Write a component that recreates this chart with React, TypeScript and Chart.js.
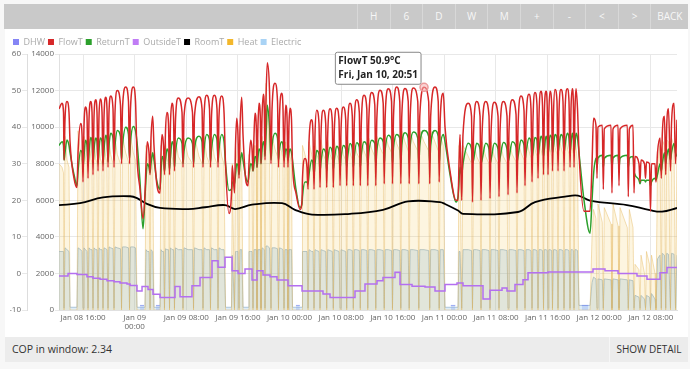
import React, { useEffect, useRef } from 'react';
import { Chart, registerables, Tooltip } from 'chart.js';

Chart.register(...registerables);
Chart.defaults.font.family = "'Open Sans', sans-serif";

// ---------- data ----------
const seriesLabels = ['DHW', 'FlowT', 'ReturnT', 'OutsideT', 'RoomT', 'Heat', 'Electric'];
const legendColors = ['#8585f5', '#d62728', '#2ca02c', '#c07cf5', '#000000', '#f3b72b', '#a9d3f5'];
const navButtons = ['H', '6', 'D', 'W', 'M', '+', '-', '<', '>', 'BACK'];
const copInWindow = 2.34;
const weekdays = ['Wed', 'Thu', 'Fri', 'Sat', 'Sun'];
const tooltipHour = 68.85;

// hours since Jan 08 00:00
const xMinHour = 12.27;
const xMaxHour = 108.06;
const xTickHours = [16, 24, 32, 40, 48, 56, 64, 72, 80, 88, 96, 104];
const xTickLabels: (string | string[])[] = ['Jan 08 16:00', ['Jan 09', '00:00'], 'Jan 09 08:00', 'Jan 09 16:00', 'Jan 10 00:00', 'Jan 10 08:00', 'Jan 10 16:00', 'Jan 11 00:00', 'Jan 11 08:00', 'Jan 11 16:00', 'Jan 12 00:00', 'Jan 12 08:00'];

const cycleHours = [
  12.27, 12.74, 12.97, 13.05, 13.2, 13.51, 13.82, 13.98, 14.6, 15.06,
  15.22, 15.63, 15.84, 15.99, 16.14, 16.38, 16.61, 16.77, 16.92, 17.18, 17.39, 17.54, 17.7, 17.96, 18.16, 18.32, 18.47, 18.67, 18.94, 19.09,
  19.25, 19.51, 19.71, 19.87, 20.02, 20.28, 20.64, 20.8, 20.95, 21.31, 21.8, 21.96, 22.11, 22.61, 23.04, 23.2, 23.35, 23.79, 24.13, 24.36, 24.83, 25.29, 25.6,
  25.76, 25.96, 26.22, 26.38, 26.53, 26.79, 26.99, 27.46, 27.93, 28.08, 28.24, 28.47, 28.62, 28.78, 29.01, 29.24, 29.4, 29.55, 29.79, 30.02,
  30.17, 30.33, 30.76, 31.34, 31.49, 31.65, 32.27, 32.96, 33.12, 33.27, 33.97, 34.44, 34.59, 34.75, 35.16, 35.6, 35.75, 35.91, 36.34, 36.76,
  36.92, 37.07, 37.49, 37.85, 38.08, 38.62,
  39.01, 39.13, 39.47, 39.63, 39.81, 40.01, 40.17, 40.33, 40.59, 40.79, 41.26, 41.57, 41.72, 41.98, 42.19, 42.34, 42.5, 42.65, 42.85, 42.96,
  43.12, 43.27, 43.47, 43.58, 43.74, 43.94, 44.09, 44.2, 44.36, 44.56, 44.9, 45.13, 45.29, 45.75, 46.14, 46.29, 46.45, 46.79, 46.99, 47.15,
  47.3, 47.41, 47.61, 47.76, 47.92, 48.08, 48.31, 48.46, 49.0, 49.63,
  49.94, 50.01, 50.4, 50.71, 50.87, 51.02, 51.44, 51.64, 51.8, 51.95, 52.21, 52.57, 52.73, 52.88, 53.24, 53.61, 53.76, 53.92, 54.28, 54.63,
  54.79, 54.94, 55.31, 55.67, 55.83, 55.98, 56.34, 56.71, 56.86, 57.02, 57.38, 57.73, 57.89, 58.04, 58.41, 58.82, 58.97, 59.13, 59.55, 59.98,
  60.13, 60.29, 60.74, 61.22, 61.37, 61.53, 62.03, 62.52, 62.68, 62.83, 63.31, 63.81, 63.96, 64.12, 64.61, 65.09, 65.25, 65.4, 65.9, 66.4,
  66.55, 66.71, 67.19, 67.88, 68.04, 68.19, 68.85, 69.57, 69.73, 69.88, 70.55, 71.05, 71.2, 71.36, 71.84, 72.1, 72.88, 73.81,
  74.12, 74.27, 74.43, 74.69, 74.89, 75.71, 76.21, 76.36, 76.52, 77.01, 77.53, 77.68, 77.84, 78.41, 78.92, 79.08, 79.23, 79.74, 80.32, 80.47,
  80.63, 81.14, 81.71, 81.87, 82.02, 82.53, 83.11, 83.26, 83.42, 83.88, 84.35, 84.5, 84.66, 85.12, 85.43, 85.59, 85.74, 86.05, 86.36, 86.52,
  86.67, 86.98, 87.21, 87.37, 87.49, 87.76, 87.94, 88.07, 88.19, 88.38, 88.64, 88.76, 88.92, 89.15, 89.46, 89.62, 89.77, 90.08, 90.39, 90.55,
  90.7, 91.06, 91.32, 91.48, 91.63, 91.83, 91.99, 92.1, 92.25, 92.41, 92.64, 92.87, 93.65, 94.58,
  94.89, 95.12, 95.5, 95.66, 95.81, 96.48, 96.64, 96.79, 97.83, 97.98, 98.14, 98.92, 99.07, 99.23, 100.36, 100.51, 100.67, 101.24, 101.4, 101.55,
  102.17, 102.33, 102.48, 103.02, 103.18, 103.33, 103.8, 103.95, 104.11, 104.65, 104.8, 105.04, 105.43, 105.63, 105.78, 106.12, 106.31, 106.46, 106.74, 107.05,
  107.21, 107.6, 107.83, 108.06,
];

const flowT = [
  45, 46.5, 44, 31, 42, 47, 44, 36, 26, 23.5,
  33, 41, 38, 25, 40, 45.5, 43, 26, 42, 47, 44, 27, 43, 47.5, 44, 28, 43, 47.7, 44, 28,
  43, 48.2, 45, 29, 44, 48.5, 45, 29, 44, 50, 46, 30, 45, 51, 47, 30, 45, 51, 47, 32, 23, 15, 22,
  30, 36, 33, 27, 37, 43, 35, 24, 22, 33, 38, 35, 27, 39, 44, 41, 27, 41, 46.5, 43,
  28, 42, 48, 44, 29, 43, 48, 44, 29, 43, 48.3, 45, 29, 43, 48.7, 45, 29, 43, 48.7, 45,
  29, 43, 48.5, 44, 30, 16.4,
  22, 29.5, 22, 35, 42.4, 38, 26, 40, 48.2, 38, 25, 24, 30, 36.4, 34, 28, 38, 43.8, 40, 29,
  41, 46.5, 43, 30, 43, 49, 45, 31, 48, 57.6, 50, 30, 45, 52, 47, 29, 43, 49.3, 45, 29,
  41, 46, 43, 29, 41, 45.2, 42, 30, 22, 17.5,
  20, 26, 31.4, 29, 23, 36, 42, 38, 23, 38, 44.6, 41, 23.5, 38, 44.6, 41, 23.5, 38, 45, 41.5,
  23.5, 39, 45.2, 42, 24, 39, 45.5, 42, 24, 40, 46.5, 43, 24, 41, 47.5, 44, 24, 41, 48.7, 45,
  24, 42, 49.5, 46, 24, 42, 50.1, 46.5, 24.5, 43, 50.5, 47, 24.5, 43, 51, 47, 24.5, 43, 50.6, 47,
  24.5, 43, 50.7, 47, 24.5, 43, 50.9, 47, 24.5, 43, 51, 47, 25, 42, 49.3, 40, 28, 20,
  20, 30, 38, 20, 38, 46.5, 43, 19.5, 38, 47, 43, 20, 38, 47, 43, 20.5, 38, 46.8, 43, 21,
  39, 47, 43, 21.5, 39, 47.5, 43.5, 22, 40, 48.5, 44.5, 24, 41, 49, 45, 25, 42, 49.5, 46, 26,
  43, 49.8, 46, 27, 43, 49.8, 46, 27, 43, 49.8, 46, 28, 44, 50.3, 47, 28, 44, 50.3, 47, 28,
  44, 50.5, 47, 29, 45, 50.5, 47, 29, 45, 50.5, 45, 33, 17, 17,
  30, 42.4, 40.5, 26, 40, 40.5, 23, 39.5, 40.5, 22, 39.5, 40.5, 24, 39.5, 40.5, 21, 39.5, 40.5, 22, 32,
  30, 25, 31, 30, 26, 30.5, 30, 17, 30, 30, 25, 33, 37, 26, 38, 43, 27, 40, 45, 28,
  41, 46.5, 30, 42,
];

const returnT = [
  35, 36, 35, 31, 33, 36.5, 35, 33, 27, 24,
  28, 33.6, 33, 29, 32, 36.4, 35, 29.5, 33, 37.2, 36, 30, 34, 37, 36, 30, 34, 37, 36, 30,
  34, 37.8, 36.5, 30.5, 35, 38.3, 37, 31, 35, 39.1, 37.5, 31, 35, 40, 38, 31.5, 36, 40.2, 39, 36, 25, 12.2, 21,
  26, 30, 29, 27.5, 30, 33, 31, 25, 23, 28, 32, 31, 28, 31, 34, 33, 28.5, 32, 36, 35,
  29, 33, 37, 35.5, 30, 33.5, 37, 35.5, 30, 34, 37.5, 36, 30, 34, 38, 36.5, 30.5, 34, 38, 36.5,
  30.5, 34, 38, 36, 30, 22.7,
  23, 25, 24.5, 27, 30, 29.5, 27, 30, 33, 31, 26, 25, 27, 30, 29.5, 28, 30, 32, 31.5, 29,
  32, 34, 33.5, 30, 34, 36, 35, 32, 38, 46, 40, 31, 35, 38.3, 37, 31, 34, 36, 35, 31,
  33, 34, 33.5, 31, 33, 34, 33, 31, 23, 18,
  19, 21, 25, 25, 24.5, 27, 31, 30, 27, 30, 33.6, 32.5, 28, 30.5, 34, 33, 28, 31, 34.5, 33,
  28.5, 31, 34.8, 33.5, 28.5, 31.5, 35, 34, 29, 32, 35.5, 34, 29, 32, 35.7, 34.5, 29, 32.5, 36, 35,
  29.5, 33, 36.4, 35.5, 29.5, 33.5, 37, 36, 30, 34, 37.8, 36.5, 30, 34.5, 38, 37, 30, 35, 38.5, 37,
  30, 35, 38.7, 37, 30, 35, 39.1, 37.5, 30, 35, 39.1, 37.5, 30, 34.5, 38, 36, 27, 19.5,
  21, 25, 29, 27, 30, 35.6, 34, 30, 31, 35.6, 34, 30, 31, 35.6, 34, 30, 31, 35.6, 34, 30,
  31.5, 35.8, 34, 30.5, 31.5, 36, 34.5, 30.5, 32, 36.5, 35, 31, 33, 37, 36, 31.5, 33.5, 37.2, 36.5, 32,
  34, 37.5, 36.5, 32, 34, 37.5, 36.5, 32.5, 34.5, 37.8, 37, 33, 35, 38, 37, 33, 35, 38, 37, 33,
  35, 38.3, 37, 33, 35.5, 38.3, 37, 33, 35.5, 38.3, 37, 33, 20, 11,
  20, 27, 31.5, 29, 31.5, 32.3, 29, 31.5, 32.3, 29, 31.5, 32.3, 29, 31.5, 32.3, 29, 31.5, 32, 28, 27,
  25.5, 24.5, 25.5, 25.5, 25, 25.5, 25.5, 24, 25, 26, 25.5, 27, 30, 28, 30, 33, 30, 32, 34, 31,
  33, 35.5, 33, 32,
];

const heatW = [
  8000, 7800, 7500, 0, 9500, 8200, 7800, 0, 0, 0,
  9800, 8500, 8000, 0, 9500, 8300, 8000, 0, 9500, 8400, 8000, 0, 9400, 8300, 8000, 0, 9300, 8300, 8000, 0,
  9300, 8400, 8000, 0, 9300, 8500, 8000, 0, 9400, 8500, 8000, 0, 9500, 8600, 8100, 0, 9500, 8600, 8200, 0, 0, 0, 0,
  9000, 8300, 7800, 0, 9300, 8300, 0, 0, 0, 9000, 8300, 7800, 0, 9300, 8300, 8000, 0, 9400, 8400, 8000,
  0, 9400, 8400, 8000, 0, 9400, 8400, 8000, 0, 9500, 8400, 8000, 0, 9500, 8400, 8000, 0, 9500, 8400, 8000,
  0, 9500, 8400, 8000, 0, 0,
  0, 8000, 0, 9000, 8300, 8000, 0, 9300, 8400, 0, 0, 0, 8500, 8000, 7800, 0, 9000, 8300, 8000, 0,
  9300, 8400, 8000, 0, 9500, 8600, 8300, 0, 12400, 10500, 8800, 0, 9500, 8800, 8400, 0, 9300, 8600, 8300, 0,
  9200, 8500, 8200, 0, 9000, 8400, 8000, 0, 0, 0,
  0, 9000, 8500, 8000, 0, 9200, 8500, 8200, 0, 9300, 8500, 8200, 0, 9300, 8500, 8200, 0, 9300, 8500, 8200,
  0, 9300, 8500, 8200, 0, 9300, 8500, 8200, 0, 9300, 8600, 8200, 0, 9300, 8600, 8300, 0, 9400, 8700, 8300,
  0, 9400, 8800, 8400, 0, 9500, 8900, 8500, 0, 9600, 9000, 8600, 0, 9800, 9100, 8700, 0, 9800, 9200, 8700,
  0, 9800, 9200, 8700, 0, 9800, 9200, 8700, 0, 9800, 9200, 8700, 0, 9500, 9000, 0, 0, 0,
  0, 9000, 8500, 0, 9000, 8400, 8000, 0, 9200, 8400, 8000, 0, 9200, 8400, 8000, 0, 9200, 8400, 8000, 0,
  9200, 8400, 8000, 0, 9200, 8500, 8100, 0, 9300, 8600, 8200, 0, 9400, 8700, 8300, 0, 9500, 8800, 8400, 0,
  9500, 8800, 8400, 0, 9500, 8800, 8400, 0, 9500, 8800, 8400, 0, 9500, 8900, 8500, 0, 9500, 8900, 8500, 0,
  9500, 8900, 8500, 0, 9500, 8900, 8500, 0, 9500, 8900, 8000, 0, 0, 0,
  4000, 5500, 5000, 0, 5800, 4800, 0, 5600, 4700, 0, 5800, 4600, 0, 5600, 4500, 0, 5500, 4500, 0, 2500,
  2200, 0, 3000, 2000, 0, 3200, 2500, 0, 3000, 2000, 0, 8000, 9000, 0, 9300, 9000, 0, 9300, 9200, 0,
  9400, 9000, 0, 8800,
];

const electricW = [
  3200, 3200, 3200, 100, 3400, 3300, 3200, 150, 150, 150,
  3400, 3300, 3200, 100, 3400, 3300, 3200, 100, 3400, 3300, 3300, 100, 3400, 3300, 3300, 100, 3400, 3300, 3300, 100,
  3400, 3350, 3300, 100, 3450, 3400, 3350, 100, 3450, 3400, 3350, 100, 3450, 3450, 3400, 100, 3450, 3450, 3400, 150, 150, 150, 150,
  3300, 3200, 3200, 100, 3300, 3200, 150, 150, 150, 3300, 3200, 3200, 100, 3350, 3300, 3300, 100, 3400, 3300, 3300,
  100, 3400, 3300, 3300, 100, 3400, 3300, 3300, 100, 3400, 3300, 3300, 100, 3400, 3300, 3300, 100, 3400, 3300, 3300,
  100, 3400, 3300, 3300, 150, 150,
  150, 3000, 100, 3200, 3200, 3200, 100, 3300, 3300, 150, 150, 150, 3200, 3200, 3200, 100, 3300, 3300, 3300, 100,
  3300, 3300, 3300, 100, 3400, 3350, 3300, 100, 3500, 3500, 3400, 100, 3400, 3400, 3350, 100, 3400, 3350, 3300, 100,
  3300, 3300, 3300, 100, 3300, 3300, 3300, 150, 150, 150,
  150, 3200, 3200, 3200, 100, 3300, 3200, 3200, 100, 3300, 3250, 3200, 100, 3300, 3250, 3200, 100, 3300, 3250, 3200,
  100, 3300, 3250, 3200, 100, 3300, 3250, 3200, 100, 3300, 3300, 3250, 100, 3300, 3300, 3250, 100, 3300, 3300, 3250,
  100, 3300, 3300, 3250, 100, 3300, 3300, 3250, 100, 3300, 3300, 3250, 100, 3300, 3300, 3250, 100, 3300, 3300, 3250,
  100, 3300, 3300, 3250, 100, 3300, 3300, 3250, 100, 3300, 3300, 3250, 100, 3300, 3300, 150, 150, 150,
  150, 3200, 3200, 100, 3300, 3300, 3250, 100, 3300, 3300, 3250, 100, 3300, 3300, 3250, 100, 3300, 3300, 3250, 100,
  3300, 3300, 3250, 100, 3300, 3300, 3250, 100, 3300, 3300, 3250, 100, 3300, 3300, 3250, 100, 3300, 3300, 3250, 100,
  3300, 3300, 3250, 100, 3300, 3300, 3250, 100, 3300, 3300, 3250, 100, 3300, 3300, 3250, 100, 3300, 3300, 3250, 100,
  3300, 3300, 3250, 100, 3300, 3300, 3250, 100, 3300, 3300, 3250, 250, 250, 250,
  1500, 1800, 1700, 100, 1700, 1650, 100, 1700, 1650, 100, 1700, 1650, 100, 1700, 1650, 100, 1650, 1600, 100, 800,
  700, 100, 800, 600, 100, 800, 700, 100, 900, 600, 100, 2800, 3000, 100, 3100, 3000, 100, 3100, 3050, 100,
  3100, 3050, 100, 3000,
];

const roomHours = [12.27, 15.53, 19.09, 23.28, 24.36, 25.91, 27.93, 32.27, 34.9, 38.0, 39.55, 42.18, 46.84, 48.85, 51.49, 57.38, 62.49, 66.37, 71.32, 72.1, 74.12, 74.89, 83.42, 86.05, 90.7, 92.72, 94.58, 100.31, 103.88, 105.74, 108.06];
const roomT = [18.7, 19.2, 20.8, 21.1, 20.6, 19.0, 17.9, 17.6, 18.1, 18.7, 17.6, 18.8, 19.2, 17.4, 16.1, 16.3, 17.4, 19.7, 19.5, 19.0, 17.2, 16.3, 16.8, 19.5, 21.0, 21.3, 19.9, 18.7, 17.3, 16.9, 17.9];

const outsideHours = [12.27, 13.67, 15.06, 16.61, 17.54, 18.63, 19.71, 20.8, 21.73, 22.81, 23.28, 24.36, 25.14, 26.07, 26.84, 27.93, 30.25, 31.03, 32.88, 34.13, 35.99, 36.92, 38.0, 39.09, 40.02, 41.1, 42.19, 42.96, 43.89, 44.98, 46.06, 47.77, 49.94, 53.19, 54.28, 58.15, 59.7, 61.56, 62.49, 64.35, 65.13, 66.99, 69.0, 70.55, 72.1, 73.96, 74.89, 77.99, 79.08, 80.94, 81.71, 82.95, 84.19, 84.97, 88.07, 95.04, 96.9, 98.92, 101.86, 103.41, 105.43, 106.51, 108.06];
const outsideT = [-0.7, 0.0, -0.3, -0.9, -1.3, -1.6, -2.0, -2.3, -2.6, -2.9, -3.3, -4.8, -3.6, -4.4, -5.7, -6.6, -3.6, -6.4, -3.4, -1.1, 3.5, 1.7, 4.4, 0.7, 0.0, 1.2, -1.8, 0.7, -0.4, -0.9, -1.8, -3.4, -4.8, -5.6, -6.6, -4.8, -2.9, -2.0, -1.1, 0.3, -3.0, -3.5, -3.7, -4.8, -3.0, -2.6, -3.4, -7.0, -4.6, -4.0, -4.8, -3.0, -1.7, 0.2, 0.4, 1.2, 0.7, 0.0, -0.7, -1.6, 0.2, 1.6, 1.6];

const dhwHours = [24.83, 25.45, 25.46, 27.3, 27.9, 27.91, 49.0, 49.6, 49.61, 73.0, 73.7, 73.71, 93.3, 94.3];
const dhwW = [250, 250, null, 250, 250, null, 250, 250, null, 250, 250, null, 250, 250];

// ---------- helpers ----------
function pts(xs: number[], ys: (number | null)[]) {
  return xs.map((x, i) => ({ x, y: ys[i] }));
}
function pad2(n: number) {
  return String(n).padStart(2, '0');
}
function fmtTime(h: number) {
  const d = Math.floor(h / 24);
  const rem = h - d * 24;
  const hh = Math.floor(rem);
  const mm = Math.round((rem - hh) * 60);
  return `${weekdays[d]}, Jan ${pad2(8 + d)}, ${pad2(hh)}:${pad2(mm)}`;
}

(Tooltip.positioners as any).tipAbove = function (items: any[]) {
  if (!items.length) return false;
  const el = items[0].element;
  return { x: el.x - 5, y: el.y, xAlign: 'right', yAlign: 'bottom' };
};

export default function App() {
  const canvasRef = useRef<HTMLCanvasElement | null>(null);

  useEffect(() => {
    if (!canvasRef.current) return;
    const common = { pointRadius: 0, pointHoverRadius: 0, fill: false };
    const chart = new Chart(canvasRef.current, {
      type: 'line',
      data: {
        datasets: [
          { ...common, label: seriesLabels[0], data: pts(dhwHours, dhwW), yAxisID: 'yP', borderColor: 'rgba(120,140,240,0.7)', backgroundColor: 'rgba(140,170,240,0.35)', fill: 'origin', borderWidth: 1, spanGaps: false },
          { ...common, label: seriesLabels[1], data: pts(cycleHours, flowT), yAxisID: 'yT', borderColor: '#d62728', borderWidth: 1.5, cubicInterpolationMode: 'monotone', pointHoverRadius: 4, pointHoverBorderWidth: 1.5, pointHoverBackgroundColor: 'rgba(245,175,175,0.55)', pointHoverBorderColor: '#ec9a9a' },
          { ...common, label: seriesLabels[2], data: pts(cycleHours, returnT), yAxisID: 'yT', borderColor: '#2ca02c', borderWidth: 1.5, cubicInterpolationMode: 'monotone' },
          { ...common, label: seriesLabels[3], data: pts(outsideHours, outsideT), yAxisID: 'yT', borderColor: '#b46ff0', borderWidth: 1.5, stepped: true },
          { ...common, label: seriesLabels[4], data: pts(roomHours, roomT), yAxisID: 'yT', borderColor: '#000000', borderWidth: 1.8, tension: 0.4 },
          { ...common, label: seriesLabels[5], data: pts(cycleHours, heatW), yAxisID: 'yP', borderColor: 'rgba(228,185,95,0.45)', backgroundColor: 'rgba(245,195,70,0.17)', fill: 'origin', borderWidth: 1 },
          { ...common, label: seriesLabels[6], data: pts(cycleHours, electricW), yAxisID: 'yP', borderColor: 'rgba(150,182,205,0.75)', backgroundColor: 'rgba(100,170,225,0.22)', fill: 'origin', borderWidth: 1 },
        ],
      },
      options: {
        animation: false,
        responsive: false,
        devicePixelRatio: 1,
        events: [],
        layout: { padding: { left: 5, right: 10, top: 4.5, bottom: 0 } },
        plugins: {
          legend: {
            position: 'top',
            align: 'start',
            maxHeight: 19.5,
            labels: {
              boxWidth: 6,
              boxHeight: 6,
              padding: 3,
              color: '#aaaaaa',
              font: { size: 9 },
              generateLabels: (c: any) => {
                const items = (Chart.defaults.plugins.legend.labels as any).generateLabels(c);
                items.forEach((it: any) => {
                  it.fillStyle = legendColors[it.datasetIndex];
                  it.strokeStyle = legendColors[it.datasetIndex];
                  it.lineWidth = 0;
                });
                return items;
              },
            },
          },
          tooltip: {
            enabled: true,
            position: 'tipAbove' as any,
            xAlign: 'right',
            yAlign: 'bottom',
            backgroundColor: '#ffffff',
            borderColor: '#888888',
            borderWidth: 1,
            cornerRadius: 2,
            caretSize: 0,
            caretPadding: 3,
            displayColors: false,
            titleColor: '#222222',
            bodyColor: '#222222',
            titleFont: { size: 10, weight: 'bold' },
            bodyFont: { size: 10, weight: 'bold' },
            titleMarginBottom: 2,
            padding: { top: 3, bottom: 3, left: 3, right: 3 },
            callbacks: {
              title: (items: any[]) => `${items[0].dataset.label} ${items[0].parsed.y.toFixed(1)}°C`,
              label: (item: any) => fmtTime(item.parsed.x),
            },
          },
        },
        scales: {
          x: {
            type: 'linear',
            min: xMinHour,
            max: xMaxHour,
            afterBuildTicks: (s: any) => {
              s.ticks = xTickHours.map((v) => ({ value: v }));
            },
            afterFit: (s: any) => {
              s.height = 27;
            },
            ticks: {
              autoSkip: false,
              maxRotation: 0,
              font: { size: 8, lineHeight: 1.15 },
              color: '#666666',
              padding: 3,
              callback: (_v: any, i: number) => xTickLabels[i],
            },
            grid: { color: '#e8e8e8', drawTicks: false },
            border: { color: '#e0e0e0' },
          },
          yT: {
            type: 'linear',
            position: 'left',
            weight: 1,
            min: -10,
            max: 60,
            afterFit: (s: any) => {
              s.width = 17;
            },
            ticks: { stepSize: 10, font: { size: 8 }, color: '#666666', padding: 1 },
            grid: { color: '#e8e8e8', tickLength: 5 },
            border: { color: '#dddddd' },
          },
          yP: {
            type: 'linear',
            position: 'left',
            weight: 0,
            min: 0,
            max: 14000,
            afterFit: (s: any) => {
              s.width = 32;
            },
            ticks: { stepSize: 2000, font: { size: 8 }, color: '#666666', padding: 1, callback: (v: any) => String(v) },
            grid: { drawOnChartArea: false, color: '#e8e8e8', tickLength: 4 },
            border: { color: '#e0e0e0' },
          },
        },
      } as any,
    });

    const idx = cycleHours.indexOf(tooltipHour);
    const meta = chart.getDatasetMeta(1);
    const el: any = meta.data[idx];
    const active = [{ datasetIndex: 1, index: idx }];
    chart.setActiveElements(active);
    chart.tooltip!.setActiveElements(active, { x: el.x, y: el.y });
    chart.update();

    return () => chart.destroy();
  }, []);

  return (
    <div style={{ position: 'absolute', left: 0, top: 0, width: 690, height: 369, background: '#f7f7f7', fontFamily: "'Open Sans', sans-serif", overflow: 'hidden' }}>
      <div style={{ position: 'absolute', left: 4, top: 4, width: 684, height: 25, background: '#c9c9c9' }}>
        <div style={{ position: 'absolute', left: 353, top: 0, height: 25, display: 'flex' }}>
          {navButtons.map((b) => (
            <div key={b} style={{ width: b === 'BACK' ? 38 : 32.6, height: 25, lineHeight: '25px', textAlign: 'center', color: '#f7f7f7', fontSize: 10, borderLeft: '1px solid #d8d8d8', boxSizing: 'border-box' }}>
              {b}
            </div>
          ))}
        </div>
      </div>
      <div style={{ position: 'absolute', left: 5, top: 29, width: 683, height: 308, background: '#ffffff' }}>
        <canvas ref={canvasRef} width={682} height={307} style={{ position: 'absolute', left: 0, top: 1, width: 682, height: 307 }} />
      </div>
      <div style={{ position: 'absolute', left: 5, top: 337, width: 683, height: 25, background: '#ececec', color: '#333333' }}>
        <div style={{ position: 'absolute', left: 7, top: 0, lineHeight: '25px', fontSize: 10.5 }}>COP in window: {copInWindow.toFixed(2)}</div>
        <div style={{ position: 'absolute', left: 604, top: 0, width: 79, height: 25, lineHeight: '25px', textAlign: 'center', fontSize: 10, borderLeft: '1px solid #f6f6f6', boxSizing: 'border-box' }}>SHOW DETAIL</div>
      </div>
    </div>
  );
}
